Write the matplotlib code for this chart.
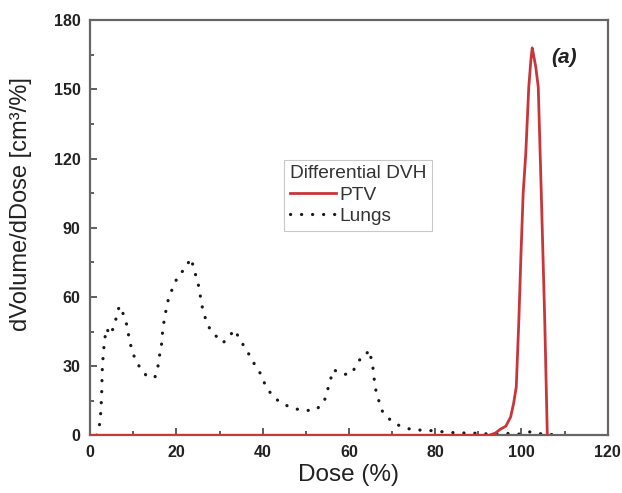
import matplotlib
matplotlib.use("Agg")
import matplotlib.pyplot as plt
from matplotlib.ticker import MultipleLocator

plt.rcParams['font.family'] = ['Liberation Sans', 'DejaVu Sans']

# PTV differential DVH
ptv_dose = [0, 92.5, 94.0, 95.0, 96.4, 97.5, 98.2, 98.8, 99.4, 99.9, 100.4, 101.0,
            101.7, 102.2, 102.5, 102.8, 103.3, 103.9, 104.6, 105.4, 106.0]
ptv_vol = [0, 0, 1.0, 2.5, 4.0, 8.0, 14.0, 21.0, 50.0, 79.0, 105.0, 122.0,
           151.0, 163.0, 168.0, 165.0, 160.0, 151.0, 105.0, 50.0, 0]

# Lungs differential DVH
lung_dose = [1.5, 1.85, 2.3, 2.45, 2.6, 2.7, 2.75, 2.85, 3.1, 3.3, 3.8, 4.6, 5.7, 6.2, 6.8,
             7.6, 8.5, 9.0, 9.6, 10.5, 11.7, 13.1, 15.0, 15.7, 16.1, 16.6, 16.8, 17.2,
             17.7, 18.3, 19.3, 20.2, 20.9, 21.9, 22.5, 23.3, 23.7, 24.4, 25.1, 25.6,
             26.1, 26.9, 27.9, 29.2, 30.8, 32.1, 33.5, 34.2, 35.3, 36.3, 37.3, 38.3,
             39.6, 40.7, 42.5, 44.7, 47.1, 49.6, 52.3, 54.2, 55.0, 55.6, 56.4, 57.1,
             58.7, 60.6, 61.9, 63.2, 64.0, 64.7, 65.5, 65.8, 66.2, 67.0, 67.9, 70.1,
             72.0, 74.7, 77.5, 79.3, 83.0, 85.6, 88.4, 91.0, 94.0, 97.0, 99.3, 102.0,
             104.0, 106.0, 109.4]
lung_vol = [0, 2.2, 5.8, 10.1, 15.2, 20.3, 25.7, 30.8, 36.2, 41.0, 46.4, 43.5, 47.8, 52.9,
            56.1, 52.9, 47.8, 42.4, 37.4, 32.6, 28.9, 25.7, 25.1, 29.7, 34.8, 40.1, 45.3,
            50.4, 55.4, 60.5, 64.4, 68.5, 70.5, 71.7, 73.9, 76.8, 74.6, 69.9, 65.1, 59.7,
            54.5, 49.6, 45.5, 43.0, 40.1, 42.6, 45.8, 43.3, 39.7, 37.1, 33.2, 30.3, 26.4,
            21.3, 16.5, 13.6, 11.7, 10.7, 11.0, 14.3, 19.4, 23.4, 28.5, 27.8, 26.4, 26.7,
            31.0, 34.8, 35.2, 37.0, 30.4, 25.1, 19.9, 14.5, 9.7, 5.8, 3.9, 2.4, 2.2, 2.0,
            1.3, 1.0, 1.0, 0.7, 0.5, 0.8, 0.5, 1.5, 0.8, 0.3, 0.5]

x_ticks = [0, 20, 40, 60, 80, 100, 120]
y_ticks = [0, 30, 60, 90, 120, 150, 180]

fig = plt.figure(figsize=(6.22, 4.93), dpi=100)
ax = fig.add_axes([0.145, 0.117, 0.832, 0.842])

ax.plot(lung_dose, lung_vol, color='#1a1a1a', lw=2.3, linestyle=(0, (0.05, 3.4)),
        dash_capstyle='round', label='Lungs')
ax.plot(ptv_dose, ptv_vol, color='#c8363a', lw=2.0, label='PTV', zorder=3)

ax.set_xlim(0, 120)
ax.set_ylim(0, 180)
ax.set_xticks(x_ticks)
ax.set_yticks(y_ticks)
ax.xaxis.set_minor_locator(MultipleLocator(10))
ax.yaxis.set_minor_locator(MultipleLocator(15))
ax.tick_params(which='both', direction='in', top=False, right=False,
               color='#444444', width=1.2)
ax.tick_params(which='major', length=5, labelsize=11.5, pad=7)
ax.tick_params(which='minor', length=3)
for lab in ax.get_xticklabels() + ax.get_yticklabels():
    lab.set_fontweight('bold')
    lab.set_color('#222222')
for sp in ax.spines.values():
    sp.set_color('#666666')
    sp.set_linewidth(1.6)

ax.set_xlabel('Dose (%)', fontsize=17.5, color='#222222', labelpad=3)
ax.set_ylabel('dVolume/dDose [cm³/%]', fontsize=17, color='#222222')
ax.yaxis.set_label_coords(-0.112, 0.558)

handles, labels = ax.get_legend_handles_labels()
leg = ax.legend([handles[1], handles[0]], [labels[1], labels[0]],
                title='Differential DVH', loc='upper left',
                bbox_to_anchor=(0.375, 0.664), fontsize=13.8, title_fontsize=13.8,
                frameon=True, fancybox=False, edgecolor='#bbbbbb',
                handlelength=2.4, handletextpad=0.2, borderpad=0.3,
                labelspacing=0.2, borderaxespad=0)
leg._legend_box.align = 'left'
leg.get_frame().set_linewidth(0.8)
for t in leg.get_texts():
    t.set_color('#333333')
leg.get_title().set_color('#333333')

ax.text(106.8, 164, '(a)', fontsize=15, fontweight='bold', fontstyle='italic',
        color='#222222', ha='left', va='center')

fig.savefig('out.png', dpi=100)
